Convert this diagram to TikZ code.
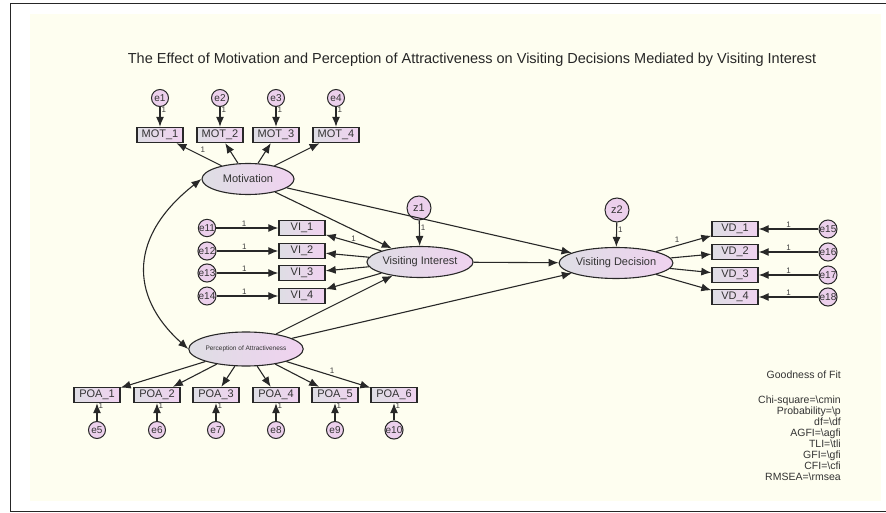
\documentclass[tikz,border=0pt]{standalone}
\usepackage{fontspec}
\setmainfont{Liberation Sans}
\usetikzlibrary{shapes.geometric,arrows.meta}
\definecolor{bgc}{RGB}{254,254,240}
\definecolor{lg}{RGB}{222,222,228}
\definecolor{lp}{RGB}{240,210,240}
\definecolor{cf}{RGB}{236,208,236}
\definecolor{dk}{RGB}{40,40,40}
\begin{document}
\begin{tikzpicture}[x=1pt,y=-1pt,
  font=\fontsize{11}{13}\selectfont,
  obs/.style={draw=dk, line width=1.4pt, rectangle, minimum width=46pt, minimum height=15pt, inner sep=0pt, left color=lg, right color=lp, text=black!80},
  lat/.style={draw=dk, line width=1.1pt, ellipse, minimum width=92pt, minimum height=31pt, inner sep=0pt, left color=lg, right color=lp, text=black!80},
  err/.style={draw=dk, line width=1pt, circle, minimum size=17pt, inner sep=0pt, fill=cf, text=black!80, font=\fontsize{10}{12}\selectfont},
  dist/.style={err, minimum size=24pt, font=\fontsize{11}{13}\selectfont},
  arr/.style={-{Latex[length=10pt,width=8pt]}, line width=1.1pt, draw=dk},
  dbl/.style={{Latex[length=10pt,width=8pt]}-{Latex[length=10pt,width=8pt]}, line width=1.1pt, draw=dk},
  one/.style={font=\fontsize{8}{9}\selectfont, text=black!75, inner sep=1pt},
]
\useasboundingbox (0,0) rectangle (886,513);
\fill[bgc] (30,14) rectangle (881,501);
\draw[line width=1.5pt, black!85] (890,3.5) -- (10.5,3.5) -- (10.5,511.5) -- (890,511.5);

\node[font=\fontsize{14.5}{16}\selectfont, text=black!85] (title) at (472,60) {The Effect of Motivation and Perception of Attractiveness on Visiting Decisions Mediated by Visiting Interest};

% latent variables
\node[lat] (mot) at (248,179) {Motivation};
\node[lat] (vi) at (420,262) {Visiting Interest};
\node[lat] (vd) at (616,263) {Visiting Decision};
\node[lat, minimum height=34pt, font=\fontsize{6.5}{8}\selectfont] (poa) at (246,349) {Perception of Attractiveness};
\node[dist] (z1) at (419,208) {z1};
\node[dist] (z2) at (617,210) {z2};

% MOT indicators
\foreach \i/\x in {1/160,2/220,3/276,4/336}{
  \node[obs] (m\i) at (\x,135) {MOT\_\i};
  \node[err] (e\i) at (\x,98) {e\i};
  \draw[arr] (e\i) -- (m\i) node[one, pos=0.15, right] {1};
}
% VI indicators
\foreach \i/\y/\e in {1/228/11,2/251/12,3/273/13,4/296/14}{
  \node[obs] (v\i) at (302,\y) {VI\_\i};
  \node[err] (e\e) at (207,\y) {e\e};
  \draw[arr] (e\e) -- (v\i) node[one, pos=0.45, above] {1};
}
% VD indicators
\foreach \i/\y/\e in {1/229/15,2/252/16,3/275/17,4/297/18}{
  \node[obs] (d\i) at (735,\y) {VD\_\i};
  \node[err] (e\e) at (828,\y) {e\e};
  \draw[arr] (e\e) -- (d\i) node[one, pos=0.5, above] {1};
}
% POA indicators
\foreach \i/\x/\e in {1/97/5,2/157/6,3/216/7,4/276/8,5/335/9,6/394/10}{
  \node[obs] (p\i) at (\x,395) {POA\_\i};
  \node[err] (e\e) at (\x,430) {e\e};
  \draw[arr] (e\e) -- (p\i) node[one, pos=0.85, right] {1};
}

% loadings
\draw[arr] (mot) -- (m1) node[one, pos=0.5, above right] {1};
\foreach \i in {2,3,4}{ \draw[arr] (mot) -- (m\i); }
\draw[arr] (vi) -- (v1) node[one, pos=0.5, above] {1};
\foreach \i in {2,3,4}{ \draw[arr] (vi) -- (v\i); }
\draw[arr] (vd) -- (d1) node[one, pos=0.45, above left] {1};
\foreach \i in {2,3,4}{ \draw[arr] (vd) -- (d\i); }
\foreach \i in {1,...,5}{ \draw[arr] (poa) -- (p\i); }
\draw[arr] (poa) -- (p6) node[one, pos=0.5, above right] {1};

% structural paths
\draw[arr] (mot) -- (vi);
\draw[arr] (mot) -- (vd);
\draw[arr] (poa) -- (vi);
\draw[arr] (poa) -- (vd);
\draw[arr] (vi) -- (vd);
\draw[arr] (z1) -- (vi) node[one, pos=0.3, right] {1};
\draw[arr] (z2) -- (vd) node[one, pos=0.3, right] {1};
\draw[dbl] (mot.west) .. controls (130,235) and (128,295) .. (poa.west);

% fit
\node[anchor=north east, align=right, inner sep=0pt, text=black!80, font=\fontsize{10.5}{11}\selectfont] (gof) at (841,371)
 {Goodness of Fit\\[14pt]Chi-square=\textbackslash cmin\\Probability=\textbackslash p\\df=\textbackslash df\\AGFI=\textbackslash agfi\\TLI=\textbackslash tli\\GFI=\textbackslash gfi\\CFI=\textbackslash cfi\\RMSEA=\textbackslash rmsea};
\end{tikzpicture}
\end{document}
